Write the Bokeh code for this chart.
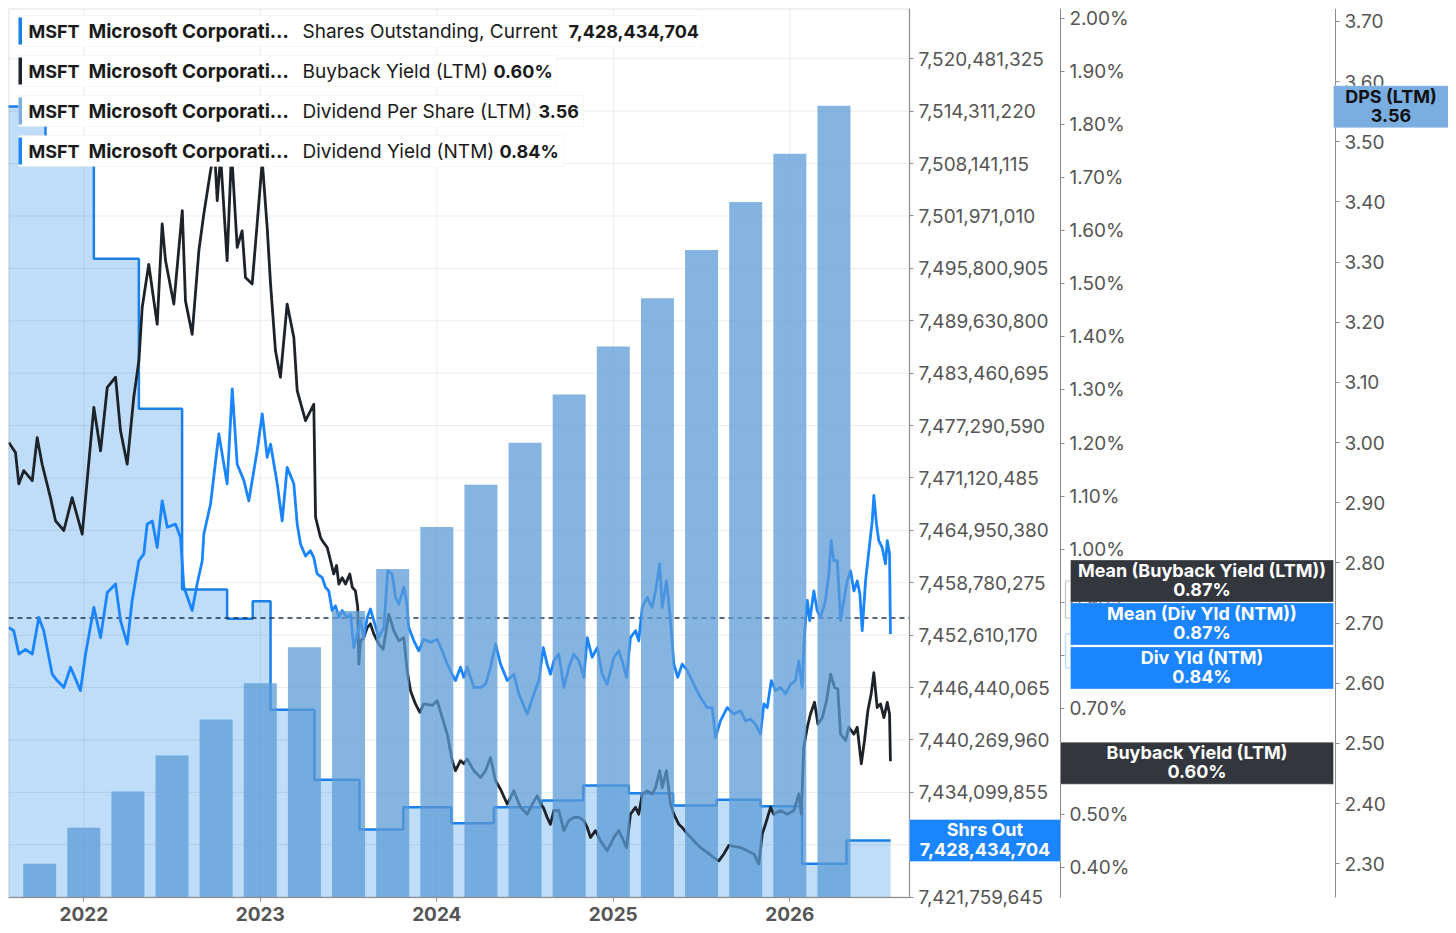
from bokeh.plotting import figure
from bokeh.models import (Range1d, LinearAxis, FixedTicker, PrintfTickFormatter,
                          NumeralTickFormatter, Label, BoxAnnotation)
from bokeh.embed import file_html
from bokeh.resources import INLINE

FONT = "Inter"

# ---------------- data ----------------
year_ticks = [2022, 2023, 2024, 2025, 2026]

share_ticks = [7421759645, 7427929750, 7434099855, 7440269960, 7446440065, 7452610170,
               7458780275, 7464950380, 7471120485, 7477290590, 7483460695, 7489630800,
               7495800905, 7501971010, 7508141115, 7514311220, 7520481325]
pct_ticks = [0.40, 0.50, 0.60, 0.70, 0.80, 0.90, 1.00, 1.10, 1.20, 1.30, 1.40, 1.50,
             1.60, 1.70, 1.80, 1.90, 2.00]
dps_ticks = [2.30, 2.40, 2.50, 2.60, 2.70, 2.80, 2.90, 3.00, 3.10, 3.20, 3.30, 3.40,
             3.50, 3.60, 3.70]

# Shares outstanding (step series): start date of each level, plus end date
share_dates = [2021.50, 2021.783, 2022.057, 2022.312, 2022.557, 2022.812, 2022.957,
               2023.058, 2023.307, 2023.562, 2023.810, 2024.082, 2024.323, 2024.593,
               2024.829, 2025.088, 2025.339, 2025.585, 2025.834, 2026.070, 2026.321]
share_end = 2026.571
share_values = [7514865000, 7509684000, 7496931000, 7479269000, 7457992000, 7454541000,
                7456614000, 7443826000, 7435584000, 7429731000, 7432357000, 7430473000,
                7432357000, 7433146000, 7434912000, 7434006000, 7432557000, 7433228000,
                7432475000, 7425692000, 7428434704]

# Dividend per share (LTM), quarterly
dps_dates = [2021.75, 2022.00, 2022.25, 2022.50, 2022.75, 2023.00, 2023.25, 2023.50,
             2023.75, 2024.00, 2024.25, 2024.50, 2024.75, 2025.00, 2025.25, 2025.50,
             2025.75, 2026.00, 2026.25]
dps_values = [2.30, 2.36, 2.42, 2.48, 2.54, 2.60, 2.66, 2.72, 2.79, 2.86, 2.93, 3.00,
              3.08, 3.16, 3.24, 3.32, 3.40, 3.48, 3.56]

# Buyback yield (LTM), %
buyback_dates = [
    2021.575, 2021.613, 2021.632, 2021.660, 2021.708, 2021.736, 2021.764, 2021.811, 2021.840, 2021.887,
    2021.934, 2021.991, 2022.019, 2022.057, 2022.095, 2022.133, 2022.180, 2022.208, 2022.246, 2022.283,
    2022.312, 2022.331, 2022.368, 2022.397, 2022.416, 2022.444, 2022.463, 2022.510, 2022.558, 2022.576,
    2022.614, 2022.652, 2022.680, 2022.718, 2022.741, 2022.756, 2022.775, 2022.812, 2022.837, 2022.869,
    2022.897, 2022.916, 2022.954, 2022.982, 2023.011, 2023.039, 2023.058, 2023.086, 2023.114, 2023.152,
    2023.190, 2023.209, 2023.256, 2023.303, 2023.313, 2023.341,
    2023.351, 2023.379, 2023.398, 2023.416, 2023.432, 2023.445, 2023.464, 2023.483, 2023.507, 2023.521,
    2023.539, 2023.552, 2023.558, 2023.568, 2023.586, 2023.606, 2023.624, 2023.643, 2023.671, 2023.696,
    2023.728, 2023.756, 2023.785, 2023.813, 2023.832, 2023.851, 2023.879, 2023.904, 2023.926, 2023.974,
    2024.002, 2024.031, 2024.059, 2024.087, 2024.106, 2024.134, 2024.153, 2024.172, 2024.210, 2024.248,
    2024.276, 2024.304, 2024.333, 2024.361, 2024.399, 2024.436, 2024.474, 2024.512, 2024.541, 2024.569,
    2024.588, 2024.603, 2024.625, 2024.644, 2024.663, 2024.691, 2024.720, 2024.748, 2024.776, 2024.805,
    2024.833, 2024.852, 2024.871, 2024.899, 2024.927, 2024.965, 2025.003, 2025.031, 2025.050, 2025.075,
    2025.097, 2025.126, 2025.144, 2025.164, 2025.192, 2025.220, 2025.239, 2025.263, 2025.277, 2025.301,
    2025.324, 2025.343, 2025.371, 2025.390, 2025.419, 2025.456, 2025.494, 2025.532, 2025.569, 2025.598,
    2025.626, 2025.654, 2025.721, 2025.759, 2025.796, 2025.824, 2025.844, 2025.862, 2025.891, 2025.909,
    2025.947, 2025.985, 2026.023, 2026.051, 2026.065, 2026.079, 2026.099, 2026.117, 2026.140, 2026.159,
    2026.184, 2026.208, 2026.231, 2026.253, 2026.272, 2026.287, 2026.316, 2026.334, 2026.363, 2026.382,
    2026.405, 2026.423, 2026.442, 2026.461, 2026.476, 2026.495, 2026.514, 2026.533, 2026.552, 2026.565,
    2026.570]
buyback_values = [
    1.201, 1.182, 1.123, 1.148, 1.129, 1.210, 1.160, 1.097, 1.053, 1.035,
    1.097, 1.028, 1.129, 1.267, 1.185, 1.305, 1.324, 1.223, 1.160, 1.286,
    1.355, 1.456, 1.537, 1.468, 1.424, 1.613, 1.544, 1.462, 1.638, 1.468,
    1.405, 1.563, 1.632, 1.713, 1.751, 1.657, 1.742, 1.544, 1.751, 1.569,
    1.600, 1.512, 1.500, 1.613, 1.732, 1.606, 1.500, 1.374, 1.324, 1.462,
    1.399, 1.299, 1.242, 1.273, 1.060, 1.022,
    1.016, 1.003, 0.978, 0.953, 0.969, 0.934, 0.946, 0.934, 0.953, 0.928,
    0.921, 0.890, 0.783, 0.827, 0.833, 0.852, 0.859, 0.840, 0.821, 0.811,
    0.877, 0.846, 0.827, 0.833, 0.771, 0.733, 0.708, 0.692, 0.708, 0.705,
    0.714, 0.682, 0.651, 0.601, 0.582, 0.601, 0.595, 0.604, 0.582, 0.569,
    0.582, 0.607, 0.563, 0.547, 0.519, 0.544, 0.513, 0.500, 0.519, 0.535,
    0.519, 0.513, 0.494, 0.481, 0.507, 0.507, 0.469, 0.488, 0.494, 0.494,
    0.488, 0.475, 0.456, 0.469, 0.450, 0.431, 0.456, 0.469, 0.456, 0.437,
    0.500, 0.513, 0.500, 0.538, 0.544, 0.538, 0.550, 0.582, 0.550, 0.582,
    0.519, 0.500, 0.481, 0.475, 0.463, 0.450, 0.437, 0.428, 0.418, 0.412,
    0.425, 0.441, 0.437, 0.431, 0.425, 0.406, 0.463, 0.481, 0.513, 0.500,
    0.507, 0.500, 0.507, 0.538, 0.500, 0.626, 0.664, 0.689, 0.711, 0.670,
    0.682, 0.714, 0.764, 0.739, 0.736, 0.651, 0.639, 0.664, 0.651, 0.664,
    0.595, 0.639, 0.695, 0.727, 0.767, 0.701, 0.708, 0.682, 0.711, 0.689,
    0.600]

# Dividend yield (NTM), %
divyld_dates = [
    2021.575, 2021.603, 2021.632, 2021.670, 2021.708, 2021.745, 2021.773, 2021.821, 2021.849, 2021.887,
    2021.925, 2021.981, 2022.010, 2022.057, 2022.095, 2022.133, 2022.180, 2022.208, 2022.246, 2022.274,
    2022.312, 2022.340, 2022.359, 2022.388, 2022.416, 2022.444, 2022.473, 2022.520, 2022.548, 2022.567,
    2022.614, 2022.642, 2022.671, 2022.680, 2022.718, 2022.765, 2022.812, 2022.841, 2022.869, 2022.907,
    2022.935, 2022.982, 2023.011, 2023.039, 2023.058, 2023.096, 2023.124, 2023.152, 2023.190, 2023.209,
    2023.228, 2023.256, 2023.284, 2023.303, 2023.322, 2023.351, 2023.369, 2023.388, 2023.407, 2023.426,
    2023.445, 2023.464, 2023.492, 2023.511, 2023.530, 2023.549, 2023.568, 2023.586, 2023.606, 2023.624,
    2023.643, 2023.671, 2023.700, 2023.722, 2023.747, 2023.766, 2023.785, 2023.813, 2023.828, 2023.841,
    2023.870, 2023.898, 2023.926, 2023.964, 2024.002, 2024.031, 2024.059, 2024.087, 2024.106, 2024.134,
    2024.153, 2024.172, 2024.210, 2024.248, 2024.276, 2024.304, 2024.333, 2024.361, 2024.399, 2024.436,
    2024.465, 2024.512, 2024.550, 2024.578, 2024.603, 2024.625, 2024.644, 2024.663, 2024.691, 2024.720,
    2024.748, 2024.776, 2024.805, 2024.833, 2024.852, 2024.880, 2024.909, 2024.937, 2024.965, 2025.003,
    2025.031, 2025.050, 2025.075, 2025.097, 2025.126, 2025.144, 2025.164, 2025.192, 2025.220, 2025.239,
    2025.263, 2025.277, 2025.301, 2025.324, 2025.343, 2025.365, 2025.390, 2025.419, 2025.456, 2025.494,
    2025.532, 2025.560, 2025.579, 2025.607, 2025.645, 2025.683, 2025.721, 2025.749, 2025.777, 2025.805,
    2025.834, 2025.853, 2025.872, 2025.895, 2025.919, 2025.947, 2025.976, 2026.004, 2026.032, 2026.051,
    2026.070, 2026.083, 2026.099, 2026.113, 2026.136, 2026.155, 2026.174, 2026.202, 2026.221, 2026.234,
    2026.249, 2026.269, 2026.288, 2026.306, 2026.325, 2026.344, 2026.363, 2026.382, 2026.397, 2026.410,
    2026.429, 2026.448, 2026.467, 2026.476, 2026.491, 2026.504, 2026.523, 2026.542, 2026.552, 2026.565,
    2026.570]
divyld_values = [
    0.852, 0.846, 0.802, 0.811, 0.802, 0.871, 0.846, 0.764, 0.752, 0.739,
    0.777, 0.733, 0.802, 0.890, 0.833, 0.918, 0.934, 0.865, 0.821, 0.903,
    0.978, 0.991, 1.047, 1.053, 1.003, 1.091, 1.041, 1.047, 1.022, 0.928,
    0.884, 0.934, 0.978, 1.028, 1.085, 1.217, 1.123, 1.302, 1.160, 1.129,
    1.091, 1.185, 1.255, 1.173, 1.198, 1.123, 1.053, 1.154, 1.123, 1.047,
    1.009, 0.987, 0.997, 0.984, 0.953, 0.946, 0.928, 0.921, 0.884, 0.893,
    0.871, 0.884, 0.871, 0.877, 0.814, 0.840, 0.865, 0.833, 0.871, 0.887,
    0.865, 0.833, 0.852, 0.959, 0.953, 0.909, 0.896, 0.928, 0.903, 0.852,
    0.827, 0.808, 0.830, 0.824, 0.830, 0.808, 0.783, 0.764, 0.752, 0.777,
    0.758, 0.777, 0.739, 0.739, 0.745, 0.777, 0.821, 0.783, 0.752, 0.764,
    0.727, 0.689, 0.727, 0.752, 0.814, 0.783, 0.764, 0.789, 0.802, 0.739,
    0.777, 0.802, 0.789, 0.758, 0.833, 0.796, 0.814, 0.764, 0.745, 0.796,
    0.808, 0.789, 0.758, 0.833, 0.846, 0.827, 0.890, 0.909, 0.890, 0.921,
    0.972, 0.890, 0.940, 0.865, 0.783, 0.758, 0.783, 0.771, 0.745, 0.720,
    0.701, 0.701, 0.645, 0.676, 0.701, 0.689, 0.695, 0.676, 0.679, 0.670,
    0.651, 0.708, 0.701, 0.752, 0.733, 0.739, 0.727, 0.745, 0.752, 0.789,
    0.739, 0.840, 0.903, 0.865, 0.921, 0.884, 0.871, 0.903, 0.953, 1.016,
    0.978, 0.978, 0.865, 0.903, 0.940, 0.959, 0.921, 0.940, 0.915, 0.846,
    0.940, 0.997, 1.053, 1.101, 1.047, 1.016, 1.003, 0.972, 1.016, 0.991,
    0.840]

mean_buyback = 0.87
mean_divyld = 0.87
current_shares = 7428434704
current_buyback = 0.60
current_dps = 3.56
current_divyld = 0.84

# ---------------- geometry ----------------
X0, X1 = 2021.5734, 2026.678          # plotting window, page x 8 .. 909
SH0, SH1 = 7421720000, 7526404000     # plotting window, page y 897 .. 8
PC0, PC1 = 0.3429, 2.0194
DP0, DP1 = 2.2440, 3.7216
PLOT_W, PLOT_H = 901, 889
FRAME_W, FRAME_H = 1440, 919          # frame also hosts the axes / callout strip
PAGE_L, PAGE_T = 8, 8
PX_PER_X = PLOT_W / (X1 - X0)
XE = X0 + FRAME_W / PX_PER_X
EXTRA = (FRAME_H - PLOT_H) / PLOT_H


def lower(lo, hi):
    return lo - EXTRA * (hi - lo)


def ppx(px):
    return X0 + (px - PAGE_L) / PX_PER_X


def ppy(py, lo, hi):
    return hi - (py - PAGE_T) / PLOT_H * (hi - lo)


def val_to_page_y(v, lo, hi):
    return PAGE_T + (hi - v) / (hi - lo) * PLOT_H


C_SHARE = "#1b7fe8"
C_FILL = "#bfddf9"
C_BLACK = "#1e2329"
C_BLUE = "#1a85ff"
C_BAR = "#5c9bd6"
C_DARK = "#33363d"
C_DPS = "#7aaee0"

p = figure(frame_width=FRAME_W, frame_height=FRAME_H, x_range=Range1d(X0, XE),
           y_range=Range1d(lower(SH0, SH1), SH1), output_backend="svg", toolbar_location=None,
           y_axis_location="right", min_border_left=PAGE_L, min_border_top=PAGE_T,
           min_border_right=0, min_border_bottom=0,
           background_fill_color="white", border_fill_color="white")
p.extra_y_ranges = {"pct": Range1d(lower(PC0, PC1), PC1), "dps": Range1d(lower(DP0, DP1), DP1)}
p.outline_line_color = None
p.xgrid.visible = False
p.ygrid.visible = False

xax = p.xaxis[0]
xax.ticker = FixedTicker(ticks=year_ticks)
xax.formatter = NumeralTickFormatter(format="0")
xax.major_label_text_font_style = "bold"
xax.bounds = (X0, X1)
xax.fixed_location = SH0

yax = p.yaxis[0]
yax.ticker = FixedTicker(ticks=share_ticks)
yax.formatter = NumeralTickFormatter(format="0,0")
yax.fixed_location = ppx(909)
yax.bounds = (SH0, SH1)

pax = LinearAxis(y_range_name="pct", ticker=FixedTicker(ticks=pct_ticks),
                 formatter=PrintfTickFormatter(format="%.2f%%"), fixed_location=ppx(1060),
                 bounds=(PC0, PC1))
dax = LinearAxis(y_range_name="dps", ticker=FixedTicker(ticks=dps_ticks),
                 formatter=PrintfTickFormatter(format="%.2f"), fixed_location=ppx(1335),
                 bounds=(DP0, DP1))
p.add_layout(pax, "right")
p.add_layout(dax, "right")

for ax in (xax, yax, pax, dax):
    ax.axis_line_color = "#8c8c8c"
    ax.major_tick_line_color = "#8c8c8c"
    ax.major_tick_out = 4
    ax.major_tick_in = 0
    ax.minor_tick_line_color = None
    ax.major_label_text_font = FONT
    ax.major_label_text_font_size = "19px"
    ax.major_label_text_color = "#555555"
    ax.major_label_standoff = 5

# ---------------- glyphs ----------------
sx = share_dates + [share_end]
sy = share_values + [share_values[-1]]
p.varea_step(x=sx, y1=[SH0] * len(sx), y2=sy, step_mode="after", fill_color=C_FILL)

# grid (restricted to the plotting window), drawn over the area fill
p.segment(x0=[X0] * len(share_ticks), x1=[X1] * len(share_ticks), y0=share_ticks, y1=share_ticks,
          line_color="#000000", line_alpha=0.08, line_width=1)
p.segment(x0=year_ticks, x1=year_ticks, y0=[SH0] * len(year_ticks), y1=[SH1] * len(year_ticks),
          line_color="#000000", line_alpha=0.08, line_width=1)

p.step(x=sx, y=sy, mode="after", line_color=C_SHARE, line_width=2.5)

p.line(x=[X0, X1], y=[mean_buyback, mean_buyback], y_range_name="pct",
       line_color="#1d3557", line_width=1.5, line_dash="5 4")

p.line(x=buyback_dates, y=buyback_values, y_range_name="pct", line_color=C_BLACK,
       line_width=2.8, line_join="round")
p.line(x=divyld_dates, y=divyld_values, y_range_name="pct", line_color=C_BLUE,
       line_width=2.8, line_join="round")

p.vbar(x=dps_dates, top=dps_values, bottom=DP0, width=0.187, y_range_name="dps",
       fill_color=C_BAR, fill_alpha=0.75, line_color=None)

# plot-window border (left / top)
p.add_layout(BoxAnnotation(left=X0, right=X1, top=SH1, bottom=SH0, fill_alpha=0.0,
                           line_color="#9a9a9a", line_width=2, level="annotation"))

# ---------------- legend rows ----------------
rows = [
    ("Shares Outstanding, Current", "{:,}".format(current_shares), C_SHARE, 702, 568),
    ("Buyback Yield (LTM)", "%.2f%%" % current_buyback, C_BLACK, 556, 493),
    ("Dividend Per Share (LTM)", "%.2f" % current_dps, C_DPS, 583, 538),
    ("Dividend Yield (NTM)", "%.2f%%" % current_divyld, C_BLUE, 563, 499),
]
for i, (name, val, col, right, vx) in enumerate(rows):
    top = 15 + 40 * i
    bot = top + 31
    p.add_layout(BoxAnnotation(left=ppx(18), right=ppx(right), top=ppy(top, SH0, SH1),
                               bottom=ppy(bot, SH0, SH1), fill_color="white", fill_alpha=1.0,
                               line_color="#e4e4e4", line_width=1, level="annotation"))
    p.add_layout(BoxAnnotation(left=ppx(18), right=ppx(21.5), top=ppy(top + 2, SH0, SH1),
                               bottom=ppy(bot - 2, SH0, SH1), fill_color=col, fill_alpha=1.0,
                               line_color=None, level="annotation"))
    cy = ppy(top + 16, SH0, SH1)
    for txt, x, style, size in (("MSFT", 28, "bold", "18px"),
                                ("Microsoft Corporati…", 88, "bold", "19px"),
                                (name, 302, "normal", "19px"),
                                (val, vx, "bold", "18px")):
        p.add_layout(Label(x=ppx(x), y=cy, text=txt, text_baseline="middle", text_align="left",
                           text_font=FONT, text_font_size=size, text_font_style=style,
                           text_color="#1a1a1a"))

# ---------------- value callouts ----------------
# brackets joining the stacked mean / current callouts to their true level
for v, dy, col in ((mean_buyback, -37, C_DARK), (current_divyld, 34, C_BLUE)):
    y_true = val_to_page_y(v, PC0, PC1)
    y_box = y_true + dy
    p.add_layout(BoxAnnotation(left=ppx(1065), right=ppx(1072),
                               top=ppy(min(y_true, y_box), PC0, PC1),
                               bottom=ppy(max(y_true, y_box), PC0, PC1), y_range_name="pct",
                               fill_alpha=0.0, line_color=col, line_width=1.2, level="annotation"))

callouts = [
    ("Mean (Buyback Yield (LTM))\n%.2f%%" % mean_buyback, mean_buyback, "pct", PC0, PC1, -37, 1070, 1333, C_DARK, "white"),
    ("Mean (Div Yld (NTM))\n%.2f%%" % mean_divyld, mean_divyld, "pct", PC0, PC1, 6, 1070, 1333, C_BLUE, "white"),
    ("Div Yld (NTM)\n%.2f%%" % current_divyld, current_divyld, "pct", PC0, PC1, 34, 1070, 1333, C_BLUE, "white"),
    ("Buyback Yield (LTM)\n%.2f%%" % current_buyback, current_buyback, "pct", PC0, PC1, 2, 1060, 1333, C_DARK, "white"),
    ("Shrs Out\n{:,}".format(current_shares), current_shares, "default", SH0, SH1, 0, 909, 1060, C_BLUE, "white"),
    ("DPS (LTM)\n%.2f" % current_dps, current_dps, "dps", DP0, DP1, 1, 1333, 1448, C_DPS, "#111111"),
]
for txt, v, rname, lo, hi, dy, xl, xr, bg, fg in callouts:
    cyp = val_to_page_y(v, lo, hi) + dy
    p.add_layout(BoxAnnotation(left=ppx(xl), right=ppx(xr), top=ppy(cyp - 21, lo, hi),
                               bottom=ppy(cyp + 21, lo, hi), y_range_name=rname,
                               fill_color=bg, fill_alpha=1.0, line_color="white", line_width=1,
                               level="annotation"))
    p.add_layout(Label(x=ppx((xl + xr) / 2), y=ppy(cyp - 1, lo, hi), y_range_name=rname,
                       text=txt, text_align="center", text_baseline="middle", text_font=FONT,
                       text_font_size="18px", text_font_style="bold", text_color=fg,
                       text_line_height=0.92))

open("out.html", "w").write(file_html(p, INLINE))
